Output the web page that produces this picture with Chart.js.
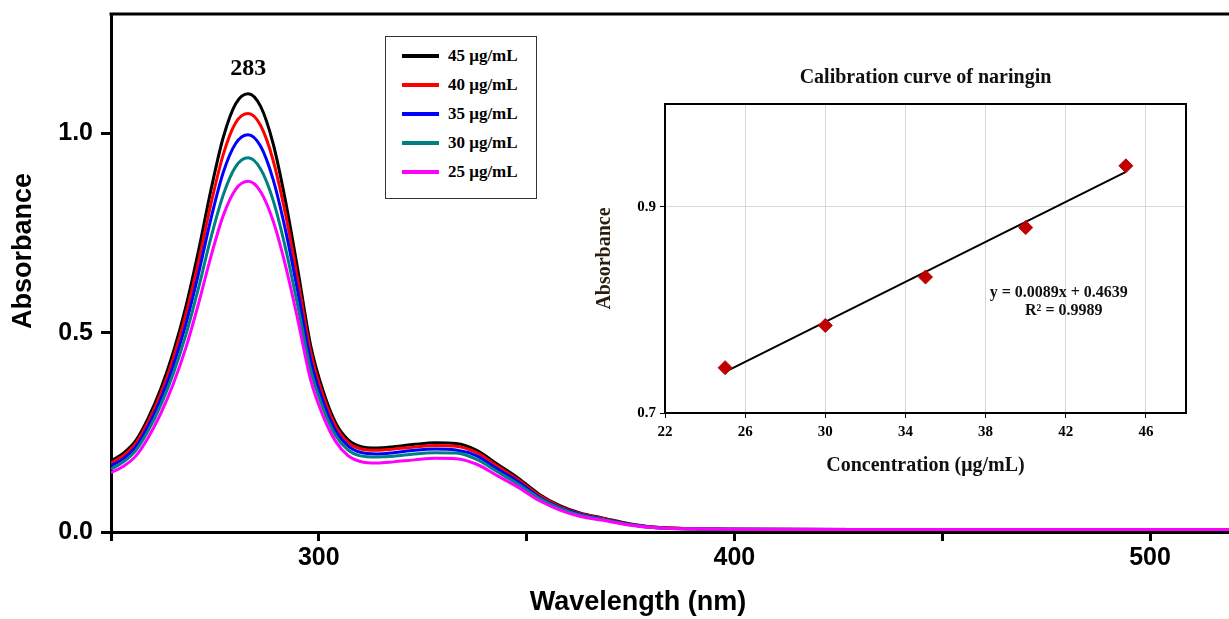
<!DOCTYPE html>
<html>
<head>
<meta charset="utf-8">
<script src="https://cdn.jsdelivr.net/npm/chart.js@4.4.1/dist/chart.umd.min.js"></script>
<style>
    body { margin: 0; background: #fff; }
    #wrap { position: relative; width: 1229px; height: 619px; overflow: hidden; }
    #main { position: absolute; left: 0; top: 0; }
    #inset { position: absolute; left: 585px; top: 60px; }
    #legend {
        position: absolute; left: 385px; top: 36px; width: 150px; height: 161px;
        border: 1.5px solid #333; background: #fff;
        font: bold 17px "Liberation Serif", serif; color: #000;
    }
    .row { position: absolute; left: 0; height: 20px; display: flex; align-items: center; }
    .sw { width: 37px; height: 4px; margin-left: 16px; margin-right: 9px; }
</style>
</head>
<body>
<div id="wrap">
    <canvas id="main" width="1229" height="619"></canvas>
    <canvas id="inset" width="620" height="425"></canvas>
    <div id="legend"></div>
</div>
<script>
// UV spectra (wavelength in nm, absorbance)
const wavelengths = [250, 253, 256, 259, 262, 265, 268, 271, 274, 277, 280, 283, 286, 289, 292, 295, 298, 301, 304, 307, 310, 314, 318, 323, 328, 333, 338, 343, 348, 353, 358, 363, 368, 375, 382, 390, 400, 430, 470, 519];
const abs45 = [0.178, 0.198, 0.230, 0.287, 0.360, 0.452, 0.565, 0.703, 0.856, 0.990, 1.075, 1.100, 1.068, 0.975, 0.830, 0.655, 0.470, 0.355, 0.275, 0.232, 0.215, 0.211, 0.214, 0.220, 0.224, 0.222, 0.205, 0.170, 0.135, 0.095, 0.066, 0.047, 0.036, 0.020, 0.011, 0.008, 0.007, 0.006, 0.006, 0.006];
const abs40 = [0.173, 0.192, 0.223, 0.278, 0.348, 0.437, 0.545, 0.676, 0.821, 0.947, 1.027, 1.050, 1.020, 0.933, 0.797, 0.630, 0.454, 0.343, 0.267, 0.225, 0.209, 0.205, 0.208, 0.213, 0.217, 0.215, 0.199, 0.165, 0.131, 0.092, 0.064, 0.046, 0.035, 0.019, 0.011, 0.008, 0.007, 0.006, 0.006, 0.006];
const abs35 = [0.166, 0.184, 0.214, 0.267, 0.334, 0.418, 0.521, 0.646, 0.784, 0.902, 0.975, 0.997, 0.968, 0.885, 0.757, 0.600, 0.433, 0.328, 0.255, 0.216, 0.200, 0.196, 0.199, 0.205, 0.208, 0.206, 0.191, 0.158, 0.126, 0.088, 0.061, 0.044, 0.033, 0.018, 0.010, 0.008, 0.007, 0.006, 0.006, 0.006];
const abs30 = [0.158, 0.176, 0.205, 0.255, 0.319, 0.398, 0.494, 0.610, 0.737, 0.846, 0.917, 0.939, 0.911, 0.833, 0.712, 0.565, 0.409, 0.312, 0.243, 0.206, 0.191, 0.188, 0.190, 0.196, 0.199, 0.198, 0.182, 0.151, 0.120, 0.085, 0.059, 0.042, 0.032, 0.018, 0.010, 0.008, 0.007, 0.006, 0.006, 0.006];
const abs25 = [0.149, 0.165, 0.191, 0.238, 0.298, 0.372, 0.462, 0.571, 0.690, 0.794, 0.860, 0.880, 0.854, 0.781, 0.668, 0.530, 0.383, 0.292, 0.228, 0.192, 0.177, 0.173, 0.176, 0.181, 0.185, 0.184, 0.170, 0.141, 0.112, 0.079, 0.055, 0.039, 0.030, 0.017, 0.010, 0.008, 0.007, 0.006, 0.006, 0.006];
const seriesLabels = ['45 μg/mL', '40 μg/mL', '35 μg/mL', '30 μg/mL', '25 μg/mL'];
const seriesColors = ['#000000', '#ff0000', '#0000ff', '#008080', '#ff00ff'];
const peakLabel = '283';
const mainXTicks = [250, 300, 350, 400, 450, 500];
const mainYTicks = [0, 0.5, 1.0];

// calibration inset
const concentrations = [25, 30, 35, 40, 45];
const calAbsorbance = [0.744, 0.785, 0.832, 0.880, 0.940];
const fitX = [25, 45];
const fitY = [0.740, 0.934];
const insetXTicks = [22, 26, 30, 34, 38, 42, 46];
const insetYTicks = [0.7, 0.9];
const equationLines = ['y = 0.0089x + 0.4639', 'R² = 0.9989'];

const allSeries = [abs45, abs40, abs35, abs30, abs25];

// html legend
const legend = document.getElementById('legend');
seriesLabels.forEach((label, i) => {
    const row = document.createElement('div');
    row.className = 'row';
    row.style.top = (9 + i * 29) + 'px';
    row.innerHTML = `<span class="sw" style="background:${seriesColors[i]}"></span><span>${label}</span>`;
    legend.appendChild(row);
});

const sans = '"Liberation Sans", Arial, sans-serif';
const serif = '"Liberation Serif", "Times New Roman", serif';

const setTicks = list => s => { s.ticks = list.map(v => ({ value: v })); };

const mainDecor = {
    id: 'mainDecor',
    afterDraw(chart) {
        const { ctx, chartArea, scales } = chart;
        ctx.save();
        ctx.strokeStyle = '#000';
        ctx.lineWidth = 3;
        ctx.beginPath();
        ctx.moveTo(chartArea.left - 1.5, chartArea.top);
        ctx.lineTo(chartArea.right, chartArea.top);
        ctx.stroke();
        ctx.fillStyle = '#000';
        ctx.textAlign = 'center';
        ctx.textBaseline = 'middle';
        ctx.font = 'bold 24px ' + serif;
        ctx.fillText(peakLabel, scales.x.getPixelForValue(283), scales.y.getPixelForValue(1.163));
        // axis titles
        ctx.font = 'bold 27px ' + sans;
        ctx.fillText('Wavelength (nm)', 638, 603);
        ctx.translate(24, 251);
        ctx.rotate(-Math.PI / 2);
        ctx.fillText('Absorbance', 0, 0);
        ctx.restore();
    }
};

new Chart(document.getElementById('main'), {
    type: 'line',
    data: {
        datasets: allSeries.map((s, i) => ({
            label: seriesLabels[i],
            data: wavelengths.map((w, j) => ({ x: w, y: s[j] })),
            borderColor: seriesColors[i],
            borderWidth: 3,
            pointRadius: 0,
            cubicInterpolationMode: 'monotone',
            order: allSeries.length - 1 - i
        }))
    },
    options: {
        responsive: false,
        animation: false,
        layout: { padding: { left: 0, top: 14, right: 0, bottom: 0 } },
        plugins: { legend: { display: false }, tooltip: { enabled: false } },
        scales: {
            x: {
                type: 'linear', min: 250, max: 519,
                afterBuildTicks: setTicks(mainXTicks),
                afterFit: s => { s.height = 87; s.paddingLeft = 0; s.paddingRight = 0; },
                ticks: {
                    padding: 2, maxRotation: 0, autoSkip: false,
                    color: '#000', font: { family: sans, size: 25, weight: 'bold' },
                    callback: v => (v % 100 === 0 ? v : '')
                },
                grid: { drawOnChartArea: false, tickLength: 9, tickWidth: 3, tickColor: '#000' },
                border: { color: '#000', width: 3 }
            },
            y: {
                min: 0, max: 1.3,
                afterBuildTicks: setTicks(mainYTicks),
                afterFit: s => { s.width = 111; s.paddingTop = 0; s.paddingBottom = 0; },
                ticks: {
                    padding: 8,
                    color: '#000', font: { family: sans, size: 25, weight: 'bold' },
                    callback: v => v.toFixed(1)
                },
                grid: { drawOnChartArea: false, tickLength: 10, tickWidth: 3, tickColor: '#000' },
                border: { color: '#000', width: 3 }
            }
        }
    },
    plugins: [mainDecor]
});

const insetDecor = {
    id: 'insetDecor',
    afterDraw(chart) {
        const { ctx, chartArea, scales } = chart;
        ctx.save();
        ctx.strokeStyle = '#000';
        ctx.lineWidth = 2;
        ctx.strokeRect(chartArea.left, chartArea.top, chartArea.right - chartArea.left, chartArea.bottom - chartArea.top);
        ctx.fillStyle = '#111';
        ctx.textAlign = 'center';
        ctx.textBaseline = 'middle';
        ctx.font = 'bold 20px ' + serif;
        ctx.fillText('Calibration curve of naringin', (chartArea.left + chartArea.right) / 2, 18);
        ctx.font = 'bold 16px ' + serif;
        ctx.fillText(equationLines[0], scales.x.getPixelForValue(41.65), scales.y.getPixelForValue(0.817));
        ctx.fillText(equationLines[1], scales.x.getPixelForValue(41.9), scales.y.getPixelForValue(0.799));
        ctx.restore();
    }
};

new Chart(document.getElementById('inset'), {
    type: 'scatter',
    data: {
        datasets: [
            {
                data: concentrations.map((c, i) => ({ x: c, y: calAbsorbance[i] })),
                pointStyle: 'rectRot', pointRadius: 7,
                backgroundColor: '#c00000', borderColor: '#c00000', order: 0
            },
            {
                type: 'line',
                data: fitX.map((x, i) => ({ x: x, y: fitY[i] })),
                borderColor: '#000', borderWidth: 2, pointRadius: 0, order: 1
            }
        ]
    },
    options: {
        responsive: false,
        animation: false,
        layout: { padding: { left: 0, top: 44, right: 19, bottom: 0 } },
        plugins: { legend: { display: false }, tooltip: { enabled: false } },
        scales: {
            x: {
                type: 'linear', min: 22, max: 48,
                afterBuildTicks: setTicks(insetXTicks),
                afterFit: s => { s.height = 72; s.paddingLeft = 0; s.paddingRight = 0; },
                ticks: {
                    padding: 5, maxRotation: 0, autoSkip: false,
                    color: '#000', font: { family: serif, size: 15, weight: 'bold' }
                },
                grid: { color: '#d9d9d9', tickColor: '#000', tickLength: 5 },
                border: { color: '#000', width: 2 },
                title: {
                    display: true, text: 'Concentration (μg/mL)', color: '#111',
                    font: { family: serif, size: 20, weight: 'bold' }, padding: { bottom: 7 }
                }
            },
            y: {
                min: 0.7, max: 1.0,
                afterBuildTicks: setTicks(insetYTicks),
                afterFit: s => { s.width = 80; s.paddingTop = 0; s.paddingBottom = 0; },
                ticks: {
                    padding: 4,
                    color: '#000', font: { family: serif, size: 15, weight: 'bold' },
                    callback: v => v.toFixed(1)
                },
                grid: { color: '#d9d9d9', tickColor: '#000', tickLength: 5 },
                border: { color: '#000', width: 2 },
                title: {
                    display: true, text: 'Absorbance', color: '#2b1d0e',
                    font: { family: serif, size: 20, weight: 'bold' }, padding: { top: 8 }
                }
            }
        }
    },
    plugins: [insetDecor]
});
</script>
</body>
</html>
